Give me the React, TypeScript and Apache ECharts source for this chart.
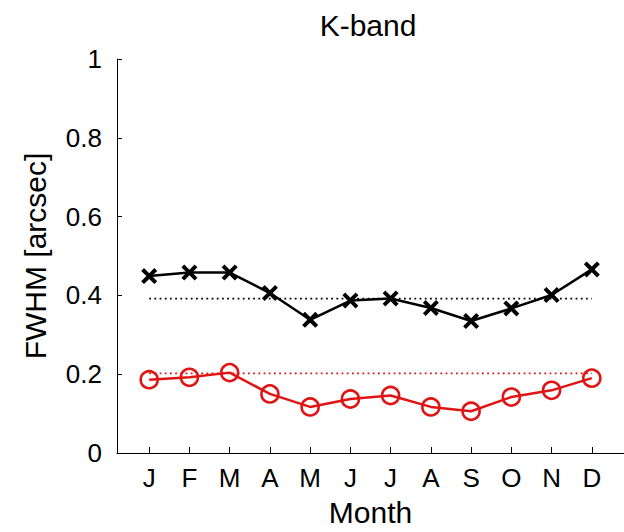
import React, { useEffect, useRef } from "react";
import * as echarts from "echarts";

const months = ["J", "F", "M", "A", "M", "J", "J", "A", "S", "O", "N", "D"];
const monthPos = [1, 2, 3, 4, 5, 6, 7, 8, 9, 10, 11, 12];
const blackValues = [0.449, 0.458, 0.458, 0.406, 0.338, 0.387, 0.392, 0.368, 0.335, 0.367, 0.401, 0.466];
const redValues = [0.186, 0.192, 0.204, 0.150, 0.117, 0.137, 0.146, 0.117, 0.106, 0.142, 0.159, 0.190];
const blackRef = 0.392;
const redRef = 0.202;
const yTicks = [0, 0.2, 0.4, 0.6, 0.8, 1];

const FONT = "'Liberation Sans', Arial, sans-serif";
const RED = "#e01414";
const XPATH =
  "path://M0,3.5 L3.5,0 L10,6.5 L16.5,0 L20,3.5 L13.5,10 L20,16.5 L16.5,20 L10,13.5 L3.5,20 L0,16.5 L6.5,10 Z";

export default function App() {
  const ref = useRef<HTMLDivElement>(null);
  useEffect(() => {
    if (!ref.current) return;
    const chart = echarts.init(ref.current, null, { renderer: "svg" });
    const pts = (vals: number[]) => vals.map((v, i) => [monthPos[i], v]);
    chart.setOption({
      animation: false,
      backgroundColor: "#ffffff",
      graphic: [
        {
          type: "text",
          x: 368,
          y: 25,
          style: {
            text: "K-band",
            fontFamily: FONT,
            fontSize: 30,
            fill: "#000",
            textAlign: "center",
            textVerticalAlign: "middle",
          },
        },
      ],
      grid: { left: 117, right: 0, top: 59, bottom: 75, containLabel: false },
      xAxis: {
        type: "value",
        min: 0.2,
        max: 12.8,
        name: "Month",
        nameLocation: "middle",
        nameGap: 44,
        nameTextStyle: { fontFamily: FONT, fontSize: 30, color: "#000" },
        axisLine: { show: true, lineStyle: { color: "#000", width: 1 } },
        axisTick: {
          show: true,
          inside: true,
          length: 6,
          customValues: monthPos,
          lineStyle: { color: "#000" },
        },
        axisLabel: {
          customValues: monthPos,
          formatter: (v: number) => months[Math.round(v) - 1] ?? "",
          fontFamily: FONT,
          fontSize: 26,
          color: "#000",
          margin: 12,
        },
        splitLine: { show: false },
      },
      yAxis: {
        type: "value",
        min: 0,
        max: 1,
        interval: 0.2,
        name: "FWHM [arcsec]",
        nameLocation: "middle",
        nameGap: 67,
        nameTextStyle: { fontFamily: FONT, fontSize: 30, color: "#000" },
        axisLine: { show: true, lineStyle: { color: "#000", width: 1 } },
        axisTick: {
          show: true,
          inside: true,
          length: 5,
          customValues: yTicks,
          lineStyle: { color: "#000" },
        },
        axisLabel: {
          customValues: yTicks,
          formatter: (v: number) => (v === 0 || v === 1 ? String(v) : v.toFixed(1)),
          fontFamily: FONT,
          fontSize: 26,
          color: "#000",
          margin: 15,
        },
        splitLine: { show: false },
      },
      series: [
        {
          type: "line",
          data: [
            [monthPos[0], blackRef],
            [monthPos[monthPos.length - 1], blackRef],
          ],
          symbol: "none",
          lineStyle: { color: "#000", width: 1.8, type: [1.8, 3.4] },
          silent: true,
        },
        {
          type: "line",
          data: [
            [monthPos[0], redRef],
            [monthPos[monthPos.length - 1], redRef],
          ],
          symbol: "none",
          lineStyle: { color: RED, width: 1.8, type: [1.8, 3.4] },
          silent: true,
        },
        {
          type: "line",
          data: pts(blackValues),
          symbol: XPATH,
          symbolSize: 16,
          lineStyle: { color: "#000", width: 2.5 },
          itemStyle: { color: "#000" },
        },
        {
          type: "line",
          data: pts(redValues),
          symbol: "circle",
          symbolSize: 17,
          lineStyle: { color: RED, width: 2.5 },
          itemStyle: { color: "rgba(0,0,0,0)", borderColor: RED, borderWidth: 2.6 },
        },
      ],
    });
    return () => chart.dispose();
  }, []);
  return <div ref={ref} style={{ width: 624, height: 532, position: "absolute", left: 0, top: 0 }} />;
}
